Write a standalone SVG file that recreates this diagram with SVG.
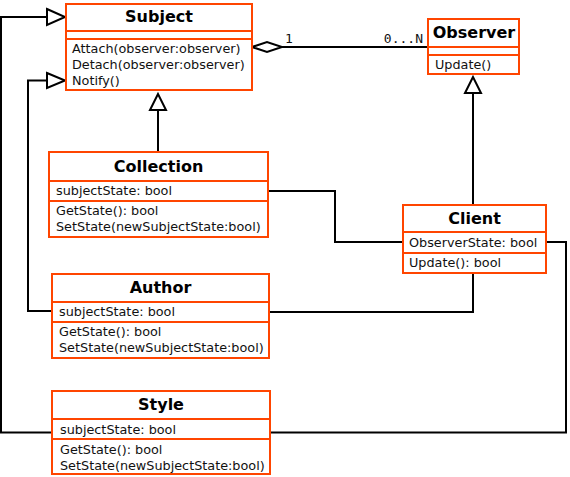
<svg xmlns="http://www.w3.org/2000/svg" width="570" height="477" viewBox="0 0 570 477">
<style>
.box{fill:#fff;stroke:#ff4500;stroke-width:2}
.sep{stroke:#ff4500;stroke-width:2}
.title{font-family:"DejaVu Sans",sans-serif;font-weight:bold;font-size:16px;fill:#000;text-anchor:middle}
.txt{font-family:"DejaVu Sans",sans-serif;font-size:12.8px;fill:#111}
.lbl{font-family:"DejaVu Sans Mono",monospace;font-size:13px;fill:#111}
.ln{fill:none;stroke:#000;stroke-width:2}
.tri{fill:#fff;stroke:#000;stroke-width:2}
</style>
<rect width="570" height="477" fill="#fff"/>
<g id="connectors">
<path class="ln" d="M282,47 H428"/>
<path class="tri" d="M252,47 L267,42 L282,47 L267,52 Z"/>
<path class="ln" d="M158,152 V110"/>
<path class="tri" d="M158,94 L150,110 L166,110 Z"/>
<path class="ln" d="M473,205 V93"/>
<path class="tri" d="M473,77 L465,93 L481,93 Z"/>
<path class="ln" d="M268,191 H335 V242 H403"/>
<path class="ln" d="M546,242 H566 V432.5 H270"/>
<path class="ln" d="M473,273 V312 H269"/>
<path class="ln" d="M52,311 H28 V80.5 H47"/>
<path class="tri" d="M47,73 L65,80.5 L47,88 Z"/>
<path class="ln" d="M52,432.5 H1 V17 H47"/>
<path class="tri" d="M47,9 L65,17 L47,25 Z"/>
<text class="lbl" x="285" y="43">1</text>
<text class="lbl" x="423" y="43" text-anchor="end">0...N</text>
</g>
<g id="Subject">
<rect class="box" x="66" y="4" width="186" height="86"/>
<line class="sep" x1="66" y1="31" x2="252" y2="31"/>
<line class="sep" x1="66" y1="39" x2="252" y2="39"/>
<text class="title" x="159" y="22">Subject</text>
<text class="txt" x="72" y="53">Attach(observer:observer)</text>
<text class="txt" x="72" y="69">Detach(observer:observer)</text>
<text class="txt" x="72" y="85">Notify()</text>
</g>
<g id="Observer">
<rect class="box" x="428" y="19" width="91" height="55"/>
<line class="sep" x1="428" y1="47" x2="519" y2="47"/>
<line class="sep" x1="428" y1="55" x2="519" y2="55"/>
<text class="title" x="474" y="38">Observer</text>
<text class="txt" x="435" y="69">Update()</text>
</g>
<g id="Collection">
<rect class="box" x="49" y="152" width="219" height="85"/>
<line class="sep" x1="49" y1="181" x2="268" y2="181"/>
<line class="sep" x1="49" y1="201" x2="268" y2="201"/>
<text class="title" x="158.5" y="172">Collection</text>
<text class="txt" x="56" y="195">subjectState: bool</text>
<text class="txt" x="56" y="215">GetState(): bool</text>
<text class="txt" x="56" y="231">SetState(newSubjectState:bool)</text>
</g>
<g id="Client">
<rect class="box" x="403" y="205" width="143" height="68"/>
<line class="sep" x1="403" y1="232" x2="546" y2="232"/>
<line class="sep" x1="403" y1="253" x2="546" y2="253"/>
<text class="title" x="474.5" y="224">Client</text>
<text class="txt" x="409" y="247">ObserverState: bool</text>
<text class="txt" x="409" y="267">Update(): bool</text>
</g>
<g id="Author">
<rect class="box" x="52" y="274" width="217" height="84"/>
<line class="sep" x1="52" y1="302" x2="269" y2="302"/>
<line class="sep" x1="52" y1="322" x2="269" y2="322"/>
<text class="title" x="160.5" y="293">Author</text>
<text class="txt" x="59" y="316">subjectState: bool</text>
<text class="txt" x="59" y="336">GetState(): bool</text>
<text class="txt" x="59" y="352">SetState(newSubjectState:bool)</text>
</g>
<g id="Style">
<rect class="box" x="52" y="391" width="218" height="83"/>
<line class="sep" x1="52" y1="419" x2="270" y2="419"/>
<line class="sep" x1="52" y1="439" x2="270" y2="439"/>
<text class="title" x="161" y="410">Style</text>
<text class="txt" x="60" y="434">subjectState: bool</text>
<text class="txt" x="60" y="454">GetState(): bool</text>
<text class="txt" x="60" y="470">SetState(newSubjectState:bool)</text>
</g>
</svg>
